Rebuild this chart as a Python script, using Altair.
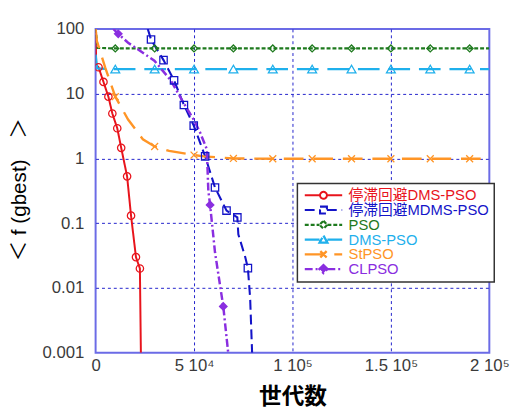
import altair as alt
import pandas as pd

# ---------------- data ----------------
series_names = ["停滞回避DMS-PSO", "停滞回避MDMS-PSO", "PSO", "DMS-PSO", "StPSO", "CLPSO"]
series_colors = ["#e8141c", "#1414c8", "#1e7a1e", "#1fb0ec", "#ff9526", "#8a2ee0"]

red_x = [0, 300, 1500, 4000, 6500, 8500, 11000, 13000, 16000, 18000, 20500, 22500, 23000]
red_y = [100, 28, 25.6, 15.2, 9.0, 4.95, 2.93, 1.46, 0.53, 0.131, 0.030, 0.020, 0.001]
red_m = [0, 0, 1, 1, 1, 1, 1, 1, 1, 1, 1, 1, 0]

blue_x = [26500, 28150, 34500, 39850, 44850, 49850, 55650, 60650, 66500, 72000, 72500, 76000, 77350, 78500, 79500]
blue_y = [100, 68.8, 33, 16.1, 6.7, 3.22, 1.08, 0.356, 0.157, 0.123, 0.0675, 0.030, 0.0203, 0.0070, 0.001]
blue_m = [0, 1, 1, 1, 1, 1, 1, 1, 1, 1, 0, 0, 1, 0, 0]

green_x = [0, 1000, 10000, 30000, 50000, 70000, 90000, 110000, 130000, 150000, 170000, 190000, 200000]
green_y = [100, 51, 50, 50, 50, 50, 50, 50, 50, 50, 50, 50, 50]
green_m = [0, 0, 1, 1, 1, 1, 1, 1, 1, 1, 1, 1, 0]

lblue_x = [0, 800, 10000, 30000, 50000, 70000, 90000, 110000, 130000, 150000, 170000, 190000, 200000]
lblue_y = [40, 24.5, 24, 24, 24, 24, 24, 24, 24, 24, 24, 24, 24]
lblue_m = [0, 0, 1, 1, 1, 1, 1, 1, 1, 1, 1, 1, 0]

orange_x = [0, 650, 4850, 10000, 16500, 24000, 30000, 37350, 50000, 55000, 70000, 90000, 110000, 130000, 150000, 170000, 190000, 200000]
orange_y = [100, 65, 25.6, 9.0, 4.0, 1.98, 1.53, 1.31, 1.13, 1.08, 1.0, 0.99, 0.99, 0.99, 0.99, 0.99, 0.99, 0.99]
orange_m = [0, 0, 0, 1, 0, 0, 1, 0, 1, 0, 1, 1, 1, 1, 1, 1, 1, 0]

purple_x = [9000, 11500, 16500, 29850, 38150, 44850, 49850, 53150, 56500, 57250, 58150, 60650, 64850, 67350]
purple_y = [100, 84, 61.3, 32.4, 16.1, 7.07, 3.98, 2.49, 1.39, 0.32, 0.192, 0.0356, 0.0052, 0.001]
purple_m = [0, 1, 0, 0, 0, 0, 0, 0, 0, 0, 1, 0, 1, 0]

x_tick_values = [0, 50000, 100000, 150000, 200000]
x_tick_labels = ["0", "5 10\u2074", "1 10\u2075", "1.5 10\u2075", "2 10\u2075"]
y_tick_values = [0.001, 0.01, 0.1, 1, 10, 100]
y_tick_labels = ["0.001", "0.01", "0.1", "1", "10", "100"]

# ---------------- styles ----------------
line_dashes = [[1, 0], [10, 5], [4, 2], [22, 9], [20, 10], [8, 3, 2, 3]]
legend_dashes = [[1, 0], [8, 3], [3, 2], [14, 5], [12, 5], [6, 3, 2, 3]]
line_widths = [2, 2.5, 3, 2, 2, 3]
marker_shapes = ["circle", "square", "diamond", "triangle-up",
                 "M-1,-1L1,1M-1,1L1,-1", "diamond"]
marker_sizes = [56, 56, 49, 81, 49, 90]
marker_filled = [False, False, False, False, False, True]
legend_fills = ["transparent", "transparent", "transparent", "transparent", "transparent", "#8a2ee0"]
legend_symbols = [
    "M-4.75,0L-0.875,0M0.875,0L4.75,0M-0.875,0A0.875,0.875,0,1,0,0.875,0A0.875,0.875,0,1,0,-0.875,0Z",
    "M-4.75,0L-0.875,0M0.875,0L4.75,0M-0.875,-0.875L0.875,-0.875L0.875,0.875L-0.875,0.875Z",
    "M-4.75,0L-1,0M1,0L4.75,0M0,-1L1,0L0,1L-1,0Z",
    "M-4.75,0L-1,0M1,0L4.75,0M0,-1L1,0.8L-1,0.8Z",
    "M-4.75,0L4.75,0M-0.8,-0.8L0.8,0.8M-0.8,0.8L0.8,-0.8",
    "M-4.75,0L-1,0M1,0L4.75,0M0,-1L1,0L0,1L-1,0Z",
]

xs = [red_x, blue_x, green_x, lblue_x, orange_x, purple_x]
ys = [red_y, blue_y, green_y, lblue_y, orange_y, purple_y]
ms = [red_m, blue_m, green_m, lblue_m, orange_m, purple_m]
rows = []
for order, (name, xv, yv, mv) in enumerate(zip(series_names, xs, ys, ms)):
    for a, b, c in zip(xv, yv, mv):
        rows.append({"series": name, "order": order, "x": a, "y": b, "m": c})
df = pd.DataFrame(rows)


def js_list(vals):
    out = []
    for v in vals:
        if isinstance(v, str):
            out.append("'" + v + "'")
        elif isinstance(v, list):
            out.append(js_list(v))
        else:
            out.append(repr(v))
    return "[" + ",".join(out) + "]"


names_js = js_list(series_names)
sym_expr = f"{js_list(legend_symbols)}[indexof({names_js}, datum.value)]"
lab_expr = f"{js_list(series_colors)}[indexof({names_js}, datum.value)]"
dash_expr = f"{js_list(legend_dashes)}[indexof({names_js}, datum.value)]"
fill_expr = f"{js_list(legend_fills)}[indexof({names_js}, datum.value)]"

x_label_expr = f"{js_list(x_tick_labels)}[indexof({js_list(x_tick_values)}, datum.value)]"
y_label_expr = f"{js_list(y_tick_labels)}[indexof({js_list(y_tick_values)}, datum.value)]"

grid_col = "#2222cc"

x_enc = alt.X(
    "x:Q",
    scale=alt.Scale(domain=[0, 200000], nice=False, zero=False),
    axis=alt.Axis(
        values=x_tick_values, labelExpr=x_label_expr, title="世代数",
        titleFont="Noto Sans CJK JP", titleFontSize=23, titleFontWeight="bold",
        titleColor="black", titleX=200, titleY=45, titleBaseline="middle",
        grid=True, gridColor=grid_col, gridDash=[3, 3], gridWidth=1,
        gridOpacity=alt.ExprRef("datum.value <= 0 || datum.value >= 200000 ? 0 : 1"),
        ticks=False, domain=False, labelFont="Liberation Sans", labelFontSize=17,
        labelColor="#3a3a3a", labelPadding=5, labelFlush=False, labelOverlap=False,
    ),
)
y_enc = alt.Y(
    "y:Q",
    scale=alt.Scale(type="log", domain=[0.001, 100], nice=False),
    axis=alt.Axis(
        values=y_tick_values, labelExpr=y_label_expr, title="＜ f (gbest)\u3000＞",
        titleFont="Liberation Sans, Noto Sans CJK JP", titleFontSize=21,
        titleFontWeight="normal", titleColor="black", titleX=-77, titleY=163,
        titleBaseline="middle", titleAlign="center",
        grid=True, gridColor=grid_col, gridDash=[3, 3], gridWidth=1,
        gridOpacity=alt.ExprRef("datum.value <= 0.0011 || datum.value >= 99 ? 0 : 1"),
        ticks=False, domain=False, labelFont="Liberation Sans", labelFontSize=17,
        labelColor="#3a3a3a", labelPadding=12, labelOverlap=False,
    ),
)

legend = alt.Legend(
    orient="none", legendX=205, legendY=157, title=None,
    symbolType=alt.ExprRef(sym_expr), symbolDash=alt.ExprRef(dash_expr),
    symbolFillColor=alt.ExprRef(fill_expr),
    labelColor=alt.ExprRef(lab_expr),
    symbolSize=64, symbolOffset=14, labelOffset=18, symbolStrokeWidth=1.5,
    padding=5, rowPadding=0, clipHeight=14, labelFontSize=15,
    labelFont="Liberation Sans, Noto Sans CJK JP",
    fillColor="white", strokeColor="#333333", labelLimit=300,
)

color_enc = alt.Color("series:N", scale=alt.Scale(domain=series_names, range=series_colors), legend=legend)

lines = alt.Chart(df).mark_line(clip=True).encode(
    x=x_enc, y=y_enc, color=color_enc,
    strokeDash=alt.StrokeDash("series:N", scale=alt.Scale(domain=series_names, range=line_dashes), legend=None),
    strokeWidth=alt.StrokeWidth("series:N", scale=alt.Scale(domain=series_names, range=line_widths), legend=None),
    order="x:Q",
)

point_layers = []
for name, col, shp, sz, fl in zip(series_names, series_colors, marker_shapes, marker_sizes, marker_filled):
    point_layers.append(
        alt.Chart(df)
        .transform_filter(f"datum.m == 1 && datum.series == '{name}'")
        .mark_point(shape=shp, size=sz, filled=fl, color=col, strokeWidth=1.3, clip=True, opacity=1)
        .encode(x="x:Q", y="y:Q")
    )

chart = alt.layer(lines, *point_layers).properties(
    width=400, height=329,
    autosize=alt.AutoSizeParams(type="none"),
    padding={"left": 89, "top": 18, "right": 21, "bottom": 64},
).configure_view(stroke="#6b6be6", strokeWidth=2).configure_legend(strokeWidth=1.5)

chart.save("out.html", embed_options={"renderer": "svg", "actions": False})
